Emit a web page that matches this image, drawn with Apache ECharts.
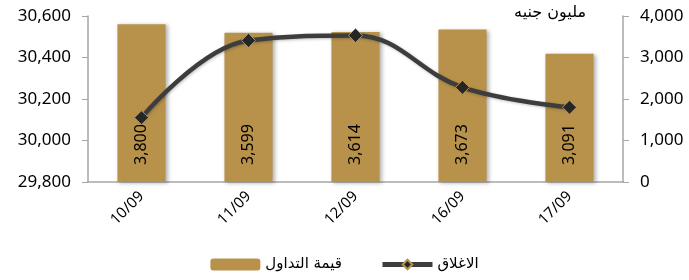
<!DOCTYPE html>
<html>
<head>
<meta charset="utf-8">
<script src="https://cdn.jsdelivr.net/npm/echarts@6/dist/echarts.min.js"></script>
<style>
    html, body { margin: 0; padding: 0; background: #fff; }
    #chart { width: 689px; height: 280px; }
</style>
</head>
<body>
<div id="chart"></div>
<script>
    var days = ['10/09', '11/09', '12/09', '16/09', '17/09'];
    var tradeValue = [3800, 3599, 3614, 3673, 3091];
    var closing = [30110, 30482, 30506, 30256, 30160];

    var font = "'Noto Sans', 'DejaVu Sans', sans-serif";
    var gold = '#b8924b';
    var axisGrey = '#a6a6a6';

    var myChart = echarts.init(document.getElementById('chart'));
    myChart.setOption({
        animation: false,
        textStyle: {
            fontFamily: font,
            color: '#000'
        },
        title: {
            text: 'مليون جنيه',
            right: 98,
            top: 0,
            textStyle: {
                fontFamily: "'DejaVu Sans', sans-serif",
                fontSize: 16,
                fontWeight: 'normal',
                color: '#000'
            }
        },
        grid: {
            left: 88,
            right: 66,
            top: 16,
            bottom: 98
        },
        legend: {
            bottom: 3,
            left: 'center',
            itemGap: 38,
            itemWidth: 50,
            itemHeight: 12,
            textStyle: {
                fontFamily: "'DejaVu Sans', sans-serif",
                fontSize: 15,
                color: '#000'
            },
            data: [
                {name: 'قيمة التداول'},
                {
                    name: 'الاغلاق',
                    lineStyle: {
                        width: 5,
                        color: '#3d3d3d'
                    }
                }
            ]
        },
        xAxis: {
            type: 'category',
            data: days,
            axisLine: {
                lineStyle: {
                    color: axisGrey,
                    width: 1.5
                }
            },
            axisTick: {
                length: 6,
                lineStyle: {
                    color: axisGrey
                }
            },
            axisLabel: {
                rotate: 45,
                fontSize: 15,
                color: '#000',
                margin: 12
            }
        },
        yAxis: [
            {
                type: 'value',
                min: 29800,
                max: 30600,
                interval: 200,
                position: 'left',
                axisLine: {
                    show: true,
                    lineStyle: {
                        color: axisGrey,
                        width: 1.5
                    }
                },
                axisTick: {
                    show: true,
                    length: 6,
                    lineStyle: {
                        color: axisGrey
                    }
                },
                splitLine: {
                    show: false
                },
                axisLabel: {
                    fontSize: 17,
                    color: '#000',
                    margin: 17,
                    formatter: function (v) {
                        return v.toLocaleString('en-US');
                    }
                }
            },
            {
                type: 'value',
                min: 0,
                max: 4000,
                interval: 1000,
                position: 'right',
                axisLine: {
                    show: true,
                    lineStyle: {
                        color: axisGrey,
                        width: 1.5
                    }
                },
                axisTick: {
                    show: true,
                    length: 6,
                    lineStyle: {
                        color: axisGrey
                    }
                },
                splitLine: {
                    show: false
                },
                axisLabel: {
                    fontSize: 17,
                    color: '#000',
                    margin: 17,
                    formatter: function (v) {
                        return v.toLocaleString('en-US');
                    }
                }
            }
        ],
        series: [
            {
                name: 'قيمة التداول',
                type: 'bar',
                yAxisIndex: 1,
                barWidth: '45%',
                data: tradeValue,
                itemStyle: {
                    color: gold,
                    shadowBlur: 4,
                    shadowOffsetX: 2,
                    shadowOffsetY: 1,
                    shadowColor: 'rgba(0,0,0,0.3)'
                },
                label: {
                    show: true,
                    position: 'insideBottom',
                    rotate: 90,
                    align: 'left',
                    verticalAlign: 'middle',
                    distance: 17,
                    fontSize: 16,
                    color: '#000',
                    formatter: function (p) {
                        return p.value.toLocaleString('en-US');
                    }
                }
            },
            {
                name: 'الاغلاق',
                type: 'line',
                yAxisIndex: 0,
                smooth: 0.4,
                data: closing,
                symbol: 'diamond',
                symbolSize: 14,
                lineStyle: {
                    color: '#3d3d3d',
                    width: 4.5,
                    shadowBlur: 3,
                    shadowOffsetX: 1,
                    shadowOffsetY: 1,
                    shadowColor: 'rgba(0,0,0,0.25)'
                },
                itemStyle: {
                    color: '#262626',
                    borderColor: gold,
                    borderWidth: 1
                },
                z: 3
            }
        ]
    });
</script>
</body>
</html>
